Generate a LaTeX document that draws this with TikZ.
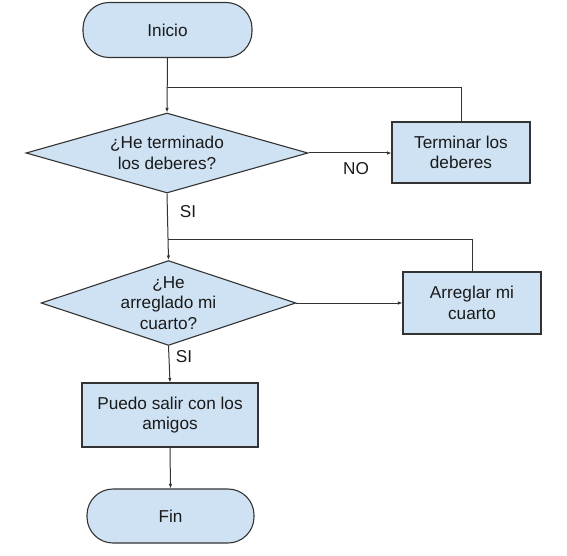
\documentclass[tikz,border=0pt]{standalone}
\usepackage{fontspec}
\setmainfont{Liberation Sans}
\usetikzlibrary{shapes.geometric,arrows.meta}
\definecolor{boxfill}{HTML}{CFE2F3}
\definecolor{boxline}{HTML}{333333}
\definecolor{txt}{HTML}{1A1A1A}
\tikzset{
  base/.style={draw=boxline, fill=boxfill, line width=1.1pt, text=txt, align=center,
    font=\fontsize{17.2}{20.5}\selectfont, inner sep=0pt},
  term/.style={base, rectangle, rounded corners=26pt},
  procbox/.style={base, rectangle},
  decide/.style={base, diamond, aspect=3},
  conn/.style={draw=boxline, line width=1pt},
  arr/.style={conn, -{Latex[length=4.5pt,width=3.5pt]}},
  lbl/.style={text=txt, font=\fontsize{17.2}{20.5}\selectfont, inner sep=0pt}
}
\begin{document}
\begin{tikzpicture}[x=1pt,y=-1pt]
\useasboundingbox (0,0) rectangle (567,556);
\node[term, minimum width=169pt, minimum height=55pt] (inicio) at (167.5,30) {Inicio};
\node[decide, minimum width=282pt, minimum height=80pt] (d1) at (167,153) {¿He terminado\\los deberes?};
\node[procbox, minimum width=138pt, minimum height=61pt] (tdeb) at (461,152.5) {Terminar los\\deberes};
\node[decide, minimum width=251pt, minimum height=80pt] (d2) at (168.5,303) {¿He\\arreglado mi\\cuarto?};
\node[procbox, minimum width=138pt, minimum height=62pt] (acuarto) at (472,303) {Arreglar mi\\cuarto};
\node[procbox, minimum width=176pt, minimum height=64pt] (salir) at (170,415) {Puedo salir con los\\amigos};
\node[term, minimum width=167pt, minimum height=54pt] (fin) at (170.5,516) {Fin};

\coordinate (j1) at (167,88);
\coordinate (j2) at (168,239);

\draw[arr] (inicio.south) -- (d1.north);
\draw[conn] (tdeb.north) |- (j1);
\draw[arr] (d1.east) -- (tdeb.west |- d1.east);
\node[lbl] (no) at (356,169) {NO};
\draw[arr] (d1.south) -- (d2.north);
\node[lbl] (si1) at (188,212) {SI};
\draw[conn] (acuarto.north) |- (j2);
\draw[arr] (d2.east) -- (acuarto.west |- d2.east);
\draw[arr] (d2.south) -- (salir.north);
\node[lbl] (si2) at (184,357) {SI};
\draw[arr] (salir.south) -- (fin.north);
\end{tikzpicture}
\end{document}
